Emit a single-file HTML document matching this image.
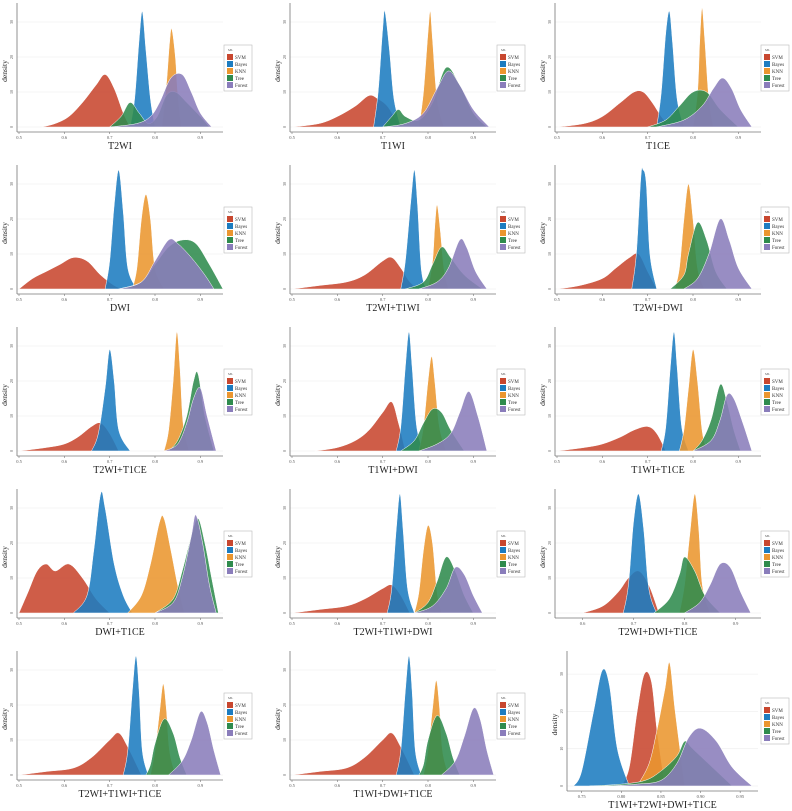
<!DOCTYPE html>
<html><head><meta charset="utf-8">
<style>
html,body{margin:0;padding:0;background:#fff;}
svg{display:block;font-family:"Liberation Serif",serif;}
</style></head>
<body>
<svg id="chart" width="792" height="811" viewBox="0 0 792 811" xmlns="http://www.w3.org/2000/svg"></svg>
<script>
const titles = ["T2WI","T1WI","T1CE","DWI","T2WI+T1WI","T2WI+DWI","T2WI+T1CE","T1WI+DWI","T1WI+T1CE","DWI+T1CE","T2WI+T1WI+DWI","T2WI+DWI+T1CE","T2WI+T1WI+T1CE","T1WI+DWI+T1CE","T1WI+T2WI+DWI+T1CE"];
const seriesNames = ["SVM","Bayes","KNN","Tree","Forest"];
const yTicks = [0,10,20,30];
const xTicksStd = [0.5,0.6,0.7,0.8,0.9];
const xTicksP12 = [0.6,0.7,0.8,0.9];
const xTicksP15 = [0.75,0.80,0.85,0.90,0.95];
// each panel: [SVM, Bayes, KNN, Tree, Forest], each [xs, densities]
const P1 = [[[0.55,0.58,0.61,0.64,0.67,0.69,0.71,0.73,0.745],[0,1,3,7,12,15,11,4,0]],
[[0.745,0.755,0.765,0.772,0.78,0.79,0.80],[0,8,25,33,22,8,0]],
[[0.815,0.825,0.832,0.837,0.845,0.85,0.858],[0,12,24,28,20,10,0]],
[[0.7,0.725,0.745,0.765,0.785,0.805,0.825,0.845,0.87,0.9,0.92],[0,3,7,4,1,3,9,10,7,3,0]],
[[0.70,0.76,0.79,0.81,0.835,0.86,0.88,0.90,0.925],[0,1,3,7,14,15,10,4,0]]];
const P2 = [[[0.5,0.56,0.6,0.64,0.67,0.69,0.71,0.73,0.745],[0,1,3,6,9,8,6,2,0]],
[[0.68,0.69,0.70,0.705,0.715,0.725,0.74],[0,10,28,33,22,8,0]],
[[0.78,0.79,0.80,0.805,0.81,0.82,0.835],[0,10,27,33,25,8,0]],
[[0.7,0.72,0.735,0.75,0.78,0.81,0.84,0.87,0.9,0.93],[0,3,5,3,2,7,17,12,4,0]],
[[0.7,0.75,0.79,0.82,0.845,0.87,0.9,0.935],[0,1,4,11,16,12,5,0]]];
const P3 = [[[0.5,0.56,0.6,0.64,0.67,0.69,0.71,0.73,0.75],[0,1,3,7,10,10,7,3,0]],
[[0.72,0.73,0.74,0.748,0.755,0.765,0.78],[0,10,27,33,24,8,0]],
[[0.8,0.81,0.815,0.82,0.826,0.835,0.845],[0,10,25,34,25,8,0]],
[[0.70,0.74,0.77,0.80,0.83,0.86,0.9],[0,2,6,10,10,5,0]],
[[0.72,0.78,0.82,0.845,0.865,0.885,0.905,0.93],[0,2,6,11,14,11,5,0]]];
const P4 = [[[0.5,0.53,0.56,0.59,0.62,0.65,0.68,0.71,0.73],[0,3,5,7,9,8,4,1,0]],
[[0.69,0.70,0.71,0.72,0.73,0.74,0.76],[0,8,24,34,22,6,0]],
[[0.75,0.76,0.77,0.78,0.79,0.80,0.82],[0,6,20,27,20,6,0]],
[[0.72,0.77,0.80,0.83,0.86,0.89,0.92,0.95],[0,2,7,12,14,13,7,0]],
[[0.72,0.77,0.80,0.83,0.85,0.88,0.91,0.93],[0,2,8,14,13,9,4,0]]];
const P5 = [[[0.5,0.56,0.62,0.66,0.70,0.72,0.74,0.76,0.78],[0,1,2,4,8,9,6,2,0]],
[[0.74,0.75,0.762,0.77,0.777,0.785,0.795],[0,8,25,34,24,6,0]],
[[0.80,0.81,0.815,0.82,0.827,0.835,0.845],[0,8,18,24,17,6,0]],
[[0.75,0.79,0.81,0.83,0.85,0.88,0.92],[0,2,7,12,9,4,0]],
[[0.78,0.82,0.845,0.87,0.885,0.905,0.93],[0,2,6,14,12,5,0]]];
const P6 = [[[0.5,0.55,0.6,0.63,0.66,0.68,0.70,0.72],[0,1,3,6,9,10,5,0]],
[[0.665,0.675,0.685,0.69,0.697,0.705,0.72],[0,10,32,34,30,10,0]],
[[0.76,0.77,0.78,0.79,0.80,0.81,0.825],[0,6,20,30,20,6,0]],
[[0.75,0.78,0.79,0.81,0.83,0.85,0.875],[0,4,10,19,14,5,0]],
[[0.78,0.81,0.835,0.86,0.88,0.90,0.93],[0,3,10,20,14,6,0]]];
const P7 = [[[0.5,0.56,0.6,0.63,0.66,0.68,0.70,0.72],[0,1,2,4,7,8,5,0]],
[[0.66,0.675,0.69,0.70,0.71,0.72,0.745],[0,5,18,29,20,6,0]],
[[0.82,0.83,0.84,0.848,0.855,0.862,0.875],[0,6,20,34,24,8,0]],
[[0.83,0.85,0.87,0.885,0.895,0.91,0.93],[0,3,10,20,22,10,0]],
[[0.82,0.85,0.87,0.885,0.9,0.915,0.935],[0,2,8,15,18,10,0]]];
const P8 = [[[0.55,0.6,0.64,0.67,0.70,0.72,0.735,0.75],[0,1,3,6,11,14,8,0]],
[[0.73,0.74,0.75,0.758,0.765,0.775,0.79],[0,7,24,34,24,7,0]],
[[0.78,0.79,0.80,0.808,0.815,0.825,0.84],[0,7,20,27,20,7,0]],
[[0.74,0.77,0.79,0.81,0.83,0.85,0.88],[0,3,8,12,11,6,0]],
[[0.78,0.82,0.85,0.87,0.89,0.91,0.93],[0,2,5,11,17,10,0]]];
const P9 = [[[0.5,0.56,0.6,0.64,0.67,0.70,0.72,0.74],[0,1,2,4,6,7,5,0]],
[[0.73,0.74,0.75,0.758,0.765,0.775,0.79],[0,7,24,34,24,7,0]],
[[0.77,0.78,0.79,0.80,0.81,0.82,0.83],[0,6,18,29,20,6,0]],
[[0.80,0.82,0.84,0.86,0.875,0.89,0.905],[0,3,9,19,14,6,0]],
[[0.80,0.84,0.86,0.875,0.89,0.91,0.93],[0,3,9,16,15,8,0]]];
const P10 = [[[0.5,0.52,0.54,0.56,0.58,0.61,0.64,0.67,0.70],[0,6,12,14,12,14,10,4,0]],
[[0.62,0.65,0.665,0.68,0.69,0.71,0.73,0.75],[0,5,18,34,30,14,5,0]],
[[0.74,0.77,0.79,0.81,0.82,0.835,0.85,0.865],[0,5,14,26,27,18,8,0]],
[[0.80,0.84,0.86,0.88,0.895,0.91,0.925,0.94],[0,4,12,22,27,20,10,0]],
[[0.80,0.84,0.86,0.88,0.89,0.905,0.92,0.935],[0,3,10,22,28,20,8,0]]];
const P11 = [[[0.5,0.56,0.62,0.66,0.70,0.72,0.74,0.76],[0,1,2,4,7,8,5,0]],
[[0.71,0.72,0.73,0.738,0.745,0.755,0.77],[0,7,24,34,24,7,0]],
[[0.77,0.78,0.79,0.80,0.81,0.82,0.83],[0,6,18,25,20,6,0]],
[[0.77,0.80,0.82,0.84,0.86,0.88,0.90],[0,3,9,16,12,5,0]],
[[0.77,0.81,0.84,0.86,0.88,0.90,0.92],[0,2,7,13,11,5,0]]];
const P12 = [[[0.6,0.64,0.67,0.69,0.71,0.73,0.75],[0,2,6,10,12,8,0]],
[[0.68,0.69,0.70,0.71,0.72,0.73,0.745],[0,8,26,34,24,7,0]],
[[0.79,0.80,0.81,0.82,0.828,0.835,0.85],[0,8,22,34,24,8,0]],
[[0.74,0.77,0.79,0.80,0.82,0.84,0.87],[0,4,11,16,12,5,0]],
[[0.80,0.83,0.85,0.87,0.89,0.91,0.93],[0,3,8,14,13,6,0]]];
const P13 = [[[0.5,0.56,0.62,0.66,0.70,0.72,0.74,0.77],[0,1,2,5,10,12,8,0]],
[[0.73,0.74,0.75,0.758,0.765,0.772,0.785],[0,7,24,34,24,7,0]],
[[0.79,0.80,0.81,0.818,0.825,0.832,0.845],[0,7,18,26,19,7,0]],
[[0.78,0.79,0.80,0.82,0.84,0.855,0.87],[0,3,9,16,12,5,0]],
[[0.83,0.86,0.88,0.90,0.915,0.93,0.945],[0,4,10,18,15,7,0]]];
const P14 = [[[0.5,0.56,0.62,0.66,0.70,0.72,0.74,0.77],[0,1,2,5,10,12,8,0]],
[[0.73,0.74,0.75,0.758,0.765,0.772,0.785],[0,7,24,34,24,7,0]],
[[0.79,0.80,0.81,0.818,0.825,0.832,0.845],[0,7,19,27,20,7,0]],
[[0.78,0.79,0.80,0.82,0.84,0.855,0.87],[0,3,10,17,12,5,0]],
[[0.83,0.86,0.88,0.90,0.915,0.93,0.945],[0,4,11,19,16,7,0]]];
const P15 = [[[0.80,0.81,0.82,0.829,0.838,0.845,0.855],[0,5,20,30,28,15,0]],
[[0.74,0.75,0.765,0.776,0.785,0.795,0.81],[0,4,20,31,27,10,0]],
[[0.82,0.835,0.845,0.855,0.861,0.868,0.88],[0,6,15,26,33,20,0]],
[[0.76,0.80,0.83,0.85,0.87,0.88,0.89,0.92,0.94],[0,0.5,1.5,4,8,12,10,4,0]],
[[0.78,0.82,0.85,0.87,0.885,0.9,0.92,0.94,0.965],[0,0.5,1.5,6,13,15.5,12,5,0]]];
const panels = [P1,P2,P3,P4,P5,P6,P7,P8,P9,P10,P11,P12,P13,P14,P15];
const domains = [[0.5,0.95],[0.5,0.95],[0.5,0.95],[0.5,0.95],[0.5,0.95],[0.5,0.95],[0.5,0.95],[0.5,0.95],[0.5,0.95],[0.5,0.95],[0.5,0.95],[0.55,0.95],[0.5,0.95],[0.5,0.95],[0.734,0.9725]];
const xTickSets = [xTicksStd,xTicksStd,xTicksStd,xTicksStd,xTicksStd,xTicksStd,xTicksStd,xTicksStd,xTicksStd,xTicksStd,xTicksStd,xTicksP12,xTicksStd,xTicksStd,xTicksP15];

const colors = ["#c8472f","#1c7cc0","#eb962f","#2f8b4d","#8a7dbb"];
const NS = "http://www.w3.org/2000/svg";
const svg = document.getElementById('chart');
function mk(tag, attrs, parent){const e=document.createElementNS(NS,tag);for(const k in attrs)e.setAttribute(k,attrs[k]);(parent||svg).appendChild(e);return e;}

function smoothPath(pts){
  let d = "M"+pts[0][0]+","+pts[0][1];
  for(let i=0;i<pts.length-1;i++){
    const p0=pts[Math.max(0,i-1)],p1=pts[i],p2=pts[i+1],p3=pts[Math.min(pts.length-1,i+2)];
    const c1x=p1[0]+(p2[0]-p0[0])/6, c1y=p1[1]+(p2[1]-p0[1])/6;
    const c2x=p2[0]-(p3[0]-p1[0])/6, c2y=p2[1]-(p3[1]-p1[1])/6;
    d+=" C"+c1x.toFixed(2)+","+c1y.toFixed(2)+" "+c2x.toFixed(2)+","+c2y.toFixed(2)+" "+p2[0].toFixed(2)+","+p2[1].toFixed(2);
  }
  return d;
}

panels.forEach((P,idx)=>{
  const col = idx%3, row = Math.floor(idx/3);
  const ox = col*264, oy = row*162;
  const last = idx===14;
  const left = last ? 39 : [17,26,27][col];
  const width = last ? 191 : 206;
  const base = last ? 138 : 127;
  const ppu = last ? 3.73 : 3.5;
  const axisY = base + 5;
  const [d0,d1] = domains[idx];
  const xs = v => left + 2 + (v-d0)/(d1-d0)*(width-2);
  const ys = v => base - v*ppu;
  const g = mk('g',{transform:`translate(${ox},${oy})`});
  
  
  // grid
  yTicks.forEach(t=>{
    const y=ys(t); if(y<4) return;
    const l=mk('line',{x1:left,x2:left+width,y1:y,y2:y,stroke:'#f1f1f1','stroke-width':0.8},g);
    
    
    const tx=mk('text',{x:left-4,y:y,'font-size':4,fill:'#555','text-anchor':'middle',transform:`rotate(-90 ${left-4} ${y})`},g);
    tx.textContent=t;
    
    
  });
  // series
  P.forEach((s,si)=>{
    const pts = s[0].map((x,i)=>[xs(x), ys(s[1][i])]);
    let d = smoothPath(pts) + ` L${pts[pts.length-1][0].toFixed(2)},${base} L${pts[0][0].toFixed(2)},${base} Z`;
    const p=mk('path',{d:d,fill:colors[si],'fill-opacity':0.88,stroke:'#fff','stroke-width':0.5},g);
    
    
  });
  // axes
  const ax=mk('line',{x1:left,x2:left+width,y1:axisY,y2:axisY,stroke:'#777','stroke-width':0.8},g);
  
  
  const ay=mk('line',{x1:left,x2:left,y1:3,y2:axisY,stroke:'#777','stroke-width':0.8},g);
  
  
  xTickSets[idx].forEach(t=>{
    const x=xs(t);
    mk('line',{x1:x,x2:x,y1:axisY,y2:axisY+2,stroke:'#777','stroke-width':0.6},g);
    const tx=mk('text',{x:x,y:axisY+7,'font-size':4.5,fill:'#555','text-anchor':'middle'},g);
    tx.textContent = last ? t.toFixed(2) : t.toFixed(1);
    
    
  });
  const xt=mk('text',{x:left+width/2,y:axisY+17,'font-size':10,fill:'#222','text-anchor':'middle'},g);
  xt.textContent=titles[idx];
  
  
  const ytx = left-10;
  const yt=mk('text',{x:ytx,y:(base+5)/2+5,'font-size':7.5,fill:'#222','text-anchor':'middle',transform:`rotate(-90 ${ytx} ${(base+5)/2+5})`},g);
  yt.textContent='density';
  
  
  // legend
  const lx = col===0 ? 224 : 233, ly = last ? 50 : 45;
  const lg=mk('g',{},g);
  
  
  mk('rect',{x:lx,y:ly,width:28,height:46,fill:'#fff',stroke:'#bbb','stroke-width':0.6},lg);
  const lt=mk('text',{x:lx+4,y:ly+6,'font-size':3.5,fill:'#555'},lg);
  lt.textContent='ML';
  seriesNames.forEach((n,si)=>{
    const ey=ly+9+si*7;
    const e=mk('g',{},lg);
    
    
    mk('rect',{x:lx+3,y:ey,width:6,height:6,fill:colors[si]},e);
    const t=mk('text',{x:lx+11,y:ey+5,'font-size':5,fill:'#333'},e);
    t.textContent=n;
  });
});
</script>
</body></html>
